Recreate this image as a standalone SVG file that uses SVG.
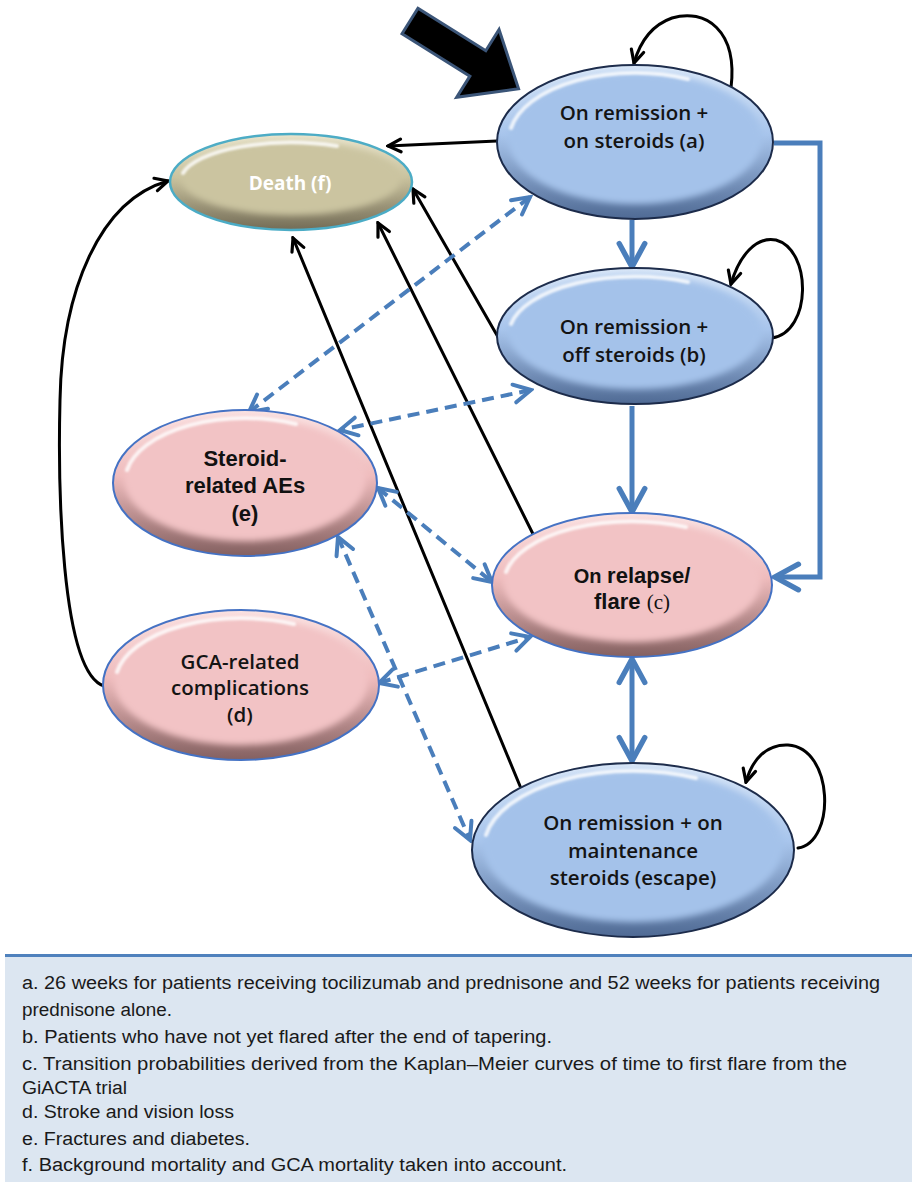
<svg xmlns="http://www.w3.org/2000/svg" width="912" height="1182" viewBox="0 0 912 1182">
  <defs>
    <style>
      .lbl { font-family: "Open Sans", "Liberation Sans", sans-serif; font-size: 20.5px; font-weight: 600; fill: #141414; text-anchor: middle; }
      .lbl-b { font-family: "Liberation Sans", Arial, sans-serif; font-size: 22px; font-weight: bold; fill: #111; text-anchor: middle; }
      .lbl-w { font-family: "Open Sans", "Liberation Sans", sans-serif; font-size: 19px; font-weight: 700; fill: #ffffff; text-anchor: middle; }
      .note { font-family: "Liberation Sans", Arial, sans-serif; font-size: 18px; fill: #1a1a1a; }
      .k { fill: none; stroke: #000; stroke-width: 3; stroke-linecap: round; }
      .bs { fill: none; stroke: #4a7ebb; stroke-width: 5; }
      .bd { fill: none; stroke: #4a7ebb; stroke-width: 4; stroke-dasharray: 12 7; }
      .hl { fill: none; stroke: #ffffff; stroke-width: 4; stroke-opacity: 0.8; stroke-linecap: round; filter: url(#soft1); }
      .blue-o { fill: url(#gBlue); stroke: #1c2b4a; stroke-width: 2; }
      .blue-i { fill: #a4c2ea; filter: url(#soft3); }
      .pink-o { fill: url(#gPink); stroke: #4472c4; stroke-width: 2; }
      .pink-i { fill: #f2c3c5; filter: url(#soft3); }
      .tan-o { fill: url(#gTan); stroke: #4bacc6; stroke-width: 2.5; }
      .tan-i { fill: #cbc4a0; filter: url(#soft3); }
    </style>
    <linearGradient id="gBlue" x1="0" y1="0" x2="0" y2="1">
      <stop offset="0" stop-color="#dbe8f8"/>
      <stop offset="0.45" stop-color="#a8c5ec"/>
      <stop offset="1" stop-color="#4f6a94"/>
    </linearGradient>
    <linearGradient id="gPink" x1="0" y1="0" x2="0" y2="1">
      <stop offset="0" stop-color="#fbe4e4"/>
      <stop offset="0.45" stop-color="#efbcbd"/>
      <stop offset="1" stop-color="#846060"/>
    </linearGradient>
    <linearGradient id="gTan" x1="0" y1="0" x2="0" y2="1">
      <stop offset="0" stop-color="#ebe6cf"/>
      <stop offset="0.45" stop-color="#cac39f"/>
      <stop offset="1" stop-color="#736c56"/>
    </linearGradient>
    <filter id="soft3" x="-10%" y="-10%" width="120%" height="120%">
      <feGaussianBlur stdDeviation="3"/>
    </filter>
    <filter id="soft1" x="-10%" y="-30%" width="120%" height="160%">
      <feGaussianBlur stdDeviation="1.2"/>
    </filter>
    <marker id="ak" viewBox="0 0 16 16" refX="14" refY="8" markerWidth="17" markerHeight="17" markerUnits="userSpaceOnUse" orient="auto-start-reverse">
      <path d="M2,2 L14,8 L2,14" fill="none" stroke="#000" stroke-width="3" stroke-linecap="round" stroke-linejoin="miter"/>
    </marker>
    <marker id="abs" viewBox="0 0 30 30" refX="27" refY="15" markerWidth="32" markerHeight="32" markerUnits="userSpaceOnUse" orient="auto-start-reverse">
      <path d="M5,3 L27,15 L5,27" fill="none" stroke="#4a7ebb" stroke-width="5" stroke-linecap="round"/>
    </marker>
    <marker id="abd" viewBox="0 0 24 24" refX="21" refY="12" markerWidth="24" markerHeight="24" markerUnits="userSpaceOnUse" orient="auto-start-reverse">
      <path d="M4,3 L21,12 L4,21" fill="none" stroke="#4a7ebb" stroke-width="4" stroke-linecap="round"/>
    </marker>
  </defs>

  <rect width="912" height="1182" fill="#ffffff"/>

  <!-- entry arrow into the first state -->
  <g id="entry-arrow">
    <polygon points="0,-15 80,-15 80,-40 128,0 80,40 80,15 0,15" transform="translate(410,21) rotate(32)" fill="#000" stroke="#3b5578" stroke-width="3" stroke-linejoin="miter"/>
  </g>

  <!-- transitions -->
  <g id="connectors">
    <!-- to death -->
    <path class="k" d="M497,141 L388,146" marker-end="url(#ak)"/>
    <path class="k" d="M498,337 L413,189" marker-end="url(#ak)"/>
    <path class="k" d="M533,534 L378,223" marker-end="url(#ak)"/>
    <path class="k" d="M520,786 L293,238" marker-end="url(#ak)"/>
    <path class="k" d="M104,686 C60,672 58,480 60,400 C62,290 100,200 168,181" marker-end="url(#ak)"/>
    <!-- self loops -->
    <path class="k" d="M731,88 C738,30 705,8 672,18 C652,25 640,42 634,63" marker-end="url(#ak)"/>
    <path class="k" d="M772,338 C812,332 812,250 776,240 C756,236 739,256 731,284" marker-end="url(#ak)"/>
    <path class="k" d="M798,848 C836,842 834,748 788,745 C766,744 752,760 746,782" marker-end="url(#ak)"/>
    <!-- solid progressions -->
    <path class="bs" d="M632,220 L632,267" marker-end="url(#abs)"/>
    <path class="bs" d="M632,406 L632,512" marker-end="url(#abs)"/>
    <path class="bs" d="M774,143 L820,143 L820,577 L775,577" marker-end="url(#abs)"/>
    <path class="bs" d="M632,659 L632,761" marker-start="url(#abs)" marker-end="url(#abs)"/>
    <!-- dashed two-way links -->
    <path class="bd" d="M530,197 L249,412" marker-start="url(#abd)" marker-end="url(#abd)"/>
    <path class="bd" d="M531,390 L340,430" marker-start="url(#abd)" marker-end="url(#abd)"/>
    <path class="bd" d="M378,488 L492,582" marker-start="url(#abd)" marker-end="url(#abd)"/>
    <path class="bd" d="M338,537 L470,840" marker-start="url(#abd)" marker-end="url(#abd)"/>
    <path class="bd" d="M379,683 L530,637" marker-start="url(#abd)" marker-end="url(#abd)"/>
  </g>

  <g id="node-a">
    <ellipse class="blue-o" cx="635" cy="142" rx="138" ry="77"/>
    <ellipse class="blue-i" cx="635" cy="138" rx="127" ry="66"/>
    <path class="hl" d="M511,128 A126,67 0 0 1 688,79"/>
    <text class="lbl" x="634" y="120">On remission +</text>
    <text class="lbl" x="634" y="148">on steroids (a)</text>
  </g>

  <g id="node-b">
    <ellipse class="blue-o" cx="635" cy="336" rx="138" ry="68"/>
    <ellipse class="blue-i" cx="635" cy="332" rx="127" ry="57"/>
    <path class="hl" d="M511,324 A126,58 0 0 1 688,282"/>
    <text class="lbl" x="634" y="334">On remission +</text>
    <text class="lbl" x="634" y="362">off steroids (b)</text>
  </g>

  <g id="node-death">
    <ellipse class="tan-o" cx="291" cy="182" rx="121" ry="48"/>
    <ellipse class="tan-i" cx="291" cy="178" rx="110" ry="37"/>
    <path class="hl" d="M183,173 A110,38 0 0 1 337,146"/>
    <text class="lbl-w" x="290" y="190">Death (f)</text>
  </g>

  <g id="node-e">
    <ellipse class="pink-o" cx="245" cy="483" rx="132" ry="73"/>
    <ellipse class="pink-i" cx="245" cy="479" rx="121" ry="62"/>
    <path class="hl" d="M127,470 A120,63 0 0 1 296,424"/>
    <text class="lbl-b" x="245" y="466">Steroid-</text>
    <text class="lbl-b" x="245" y="493">related AEs</text>
    <text class="lbl-b" x="245" y="521">(e)</text>
  </g>

  <g id="node-c">
    <ellipse class="pink-o" cx="632" cy="585" rx="140" ry="72"/>
    <ellipse class="pink-i" cx="632" cy="581" rx="129" ry="61"/>
    <path class="hl" d="M506,572 A128,62 0 0 1 686,527"/>
    <text class="lbl-b" x="632" y="583"><tspan font-size="20">On </tspan>relapse/</text>
    <text class="lbl-b" x="632" y="609">flare <tspan font-family="Liberation Serif, serif" font-weight="normal" font-size="21">(c)</tspan></text>
  </g>

  <g id="node-d">
    <ellipse class="pink-o" cx="241" cy="685" rx="138" ry="75"/>
    <ellipse class="pink-i" cx="241" cy="681" rx="127" ry="64"/>
    <path class="hl" d="M117,672 A126,65 0 0 1 294,624"/>
    <text class="lbl" x="240" y="669">GCA-related</text>
    <text class="lbl" x="240" y="695">complications</text>
    <text class="lbl" x="240" y="722">(d)</text>
  </g>

  <g id="node-escape">
    <ellipse class="blue-o" cx="633" cy="850" rx="161" ry="87"/>
    <ellipse class="blue-i" cx="633" cy="846" rx="150" ry="76"/>
    <path class="hl" d="M486,835 A149,77 0 0 1 696,778"/>
    <text class="lbl" x="633" y="830">On remission + on</text>
    <text class="lbl" x="633" y="858">maintenance</text>
    <text class="lbl" x="633" y="885">steroids (escape)</text>
  </g>

  <!-- footnotes -->
  <g id="notes">
    <rect x="5" y="955" width="907" height="227" fill="#dce6f1"/>
    <line x1="5" y1="955.5" x2="912" y2="955.5" stroke="#4f81bd" stroke-width="3"/>
    <text class="note" x="22" y="989" textLength="858" lengthAdjust="spacingAndGlyphs">a. 26 weeks for patients receiving tocilizumab and prednisone and 52 weeks for patients receiving</text>
    <text class="note" x="22" y="1016" textLength="150" lengthAdjust="spacingAndGlyphs">prednisone alone.</text>
    <text class="note" x="22" y="1043" textLength="530" lengthAdjust="spacingAndGlyphs">b. Patients who have not yet flared after the end of tapering.</text>
    <text class="note" x="22" y="1070" textLength="825" lengthAdjust="spacingAndGlyphs">c. Transition probabilities derived from the Kaplan–Meier curves of time to first flare from the</text>
    <text class="note" x="22" y="1094" textLength="105" lengthAdjust="spacingAndGlyphs">GiACTA trial</text>
    <text class="note" x="22" y="1118" textLength="212" lengthAdjust="spacingAndGlyphs">d. Stroke and vision loss</text>
    <text class="note" x="22" y="1145" textLength="228" lengthAdjust="spacingAndGlyphs">e. Fractures and diabetes.</text>
    <text class="note" x="22" y="1171" textLength="545" lengthAdjust="spacingAndGlyphs">f. Background mortality and GCA mortality taken into account.</text>
  </g>
</svg>
